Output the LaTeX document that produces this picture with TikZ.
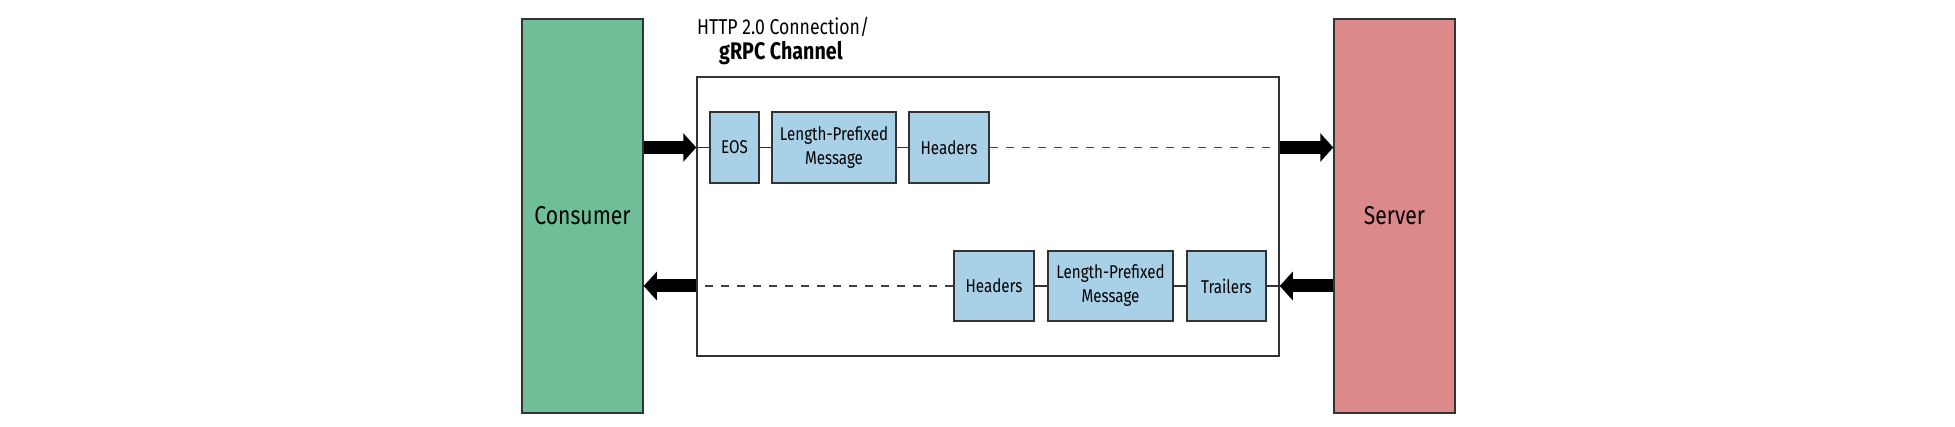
\documentclass[tikz,border=0pt]{standalone}
\usepackage{fontspec}
\setmainfont{Fira Sans}[FakeStretch=0.82]
\usetikzlibrary{arrows.meta}
\definecolor{consgreen}{HTML}{70BE98}
\definecolor{servred}{HTML}{DC898A}
\definecolor{boxblue}{HTML}{A8D0E6}
\definecolor{edgegray}{HTML}{333333}
\definecolor{dashgray}{HTML}{404040}
\tikzset{
  endbox/.style={draw=edgegray, line width=1.5pt, rectangle, inner sep=0pt,
    minimum width=121pt, minimum height=394pt, font=\fontsize{25.8}{30}\selectfont},
  chanbox/.style={draw=edgegray, line width=1.5pt, rectangle, inner sep=0pt,
    minimum width=582pt, minimum height=279pt},
  msgbox/.style={draw=edgegray, fill=boxblue, line width=1.8pt, rectangle, inner sep=0pt,
    align=center, font=\fontsize{18.5}{24}\selectfont},
  thinlink/.style={draw=edgegray, line width=1.5pt},
  dashlink/.style={draw=dashgray, line width=1.8pt, dash pattern=on 8pt off 8pt},
  bigarrow/.style={line width=13pt, -{Triangle[length=13pt, width=28pt]}},
}
\begin{document}
\begin{tikzpicture}[x=1pt, y=-1pt]
\useasboundingbox (0,0) rectangle (1955,427);
\node[endbox, fill=consgreen] (consumer) at (582.5,216) {Consumer};
\node[endbox, fill=servred] (server) at (1394.5,216) {Server};
\node[chanbox] (channel) at (988,216.5) {};
\node[anchor=base west, inner xsep=0pt, font=\fontsize{21.5}{24}\selectfont] (title1) at (697,35) {HTTP 2.0 Connection/};
\node[anchor=base west, inner xsep=0pt, font=\fontsize{24}{28}\selectfont\bfseries] (title2) at (719,60) {gRPC Channel};
% top row
\node[msgbox, minimum width=49pt, minimum height=71pt] (eos) at (734.5,147.5) {EOS};
\node[msgbox, minimum width=124pt, minimum height=71pt] (lpm1) at (834,147.5) {Length-Prefixed\\Message};
\node[msgbox, minimum width=80pt, minimum height=71pt] (hdr1) at (949,147.5) {Headers};
% bottom row
\node[msgbox, minimum width=80pt, minimum height=70pt] (hdr2) at (994,286) {Headers};
\node[msgbox, minimum width=125pt, minimum height=70pt] (lpm2) at (1110.5,286) {Length-Prefixed\\Message};
\node[msgbox, minimum width=79pt, minimum height=70pt] (trl) at (1226.5,286) {Trailers};
\coordinate (cinTop) at (channel.west |- eos);
\coordinate (coutTop) at (channel.east |- hdr1);
\coordinate (cinBot) at (channel.east |- trl);
\coordinate (coutBot) at (channel.west |- hdr2);
% links top
\draw[thinlink] (cinTop) -- (eos.west);
\draw[thinlink] (eos.east) -- (lpm1.west);
\draw[thinlink] (lpm1.east) -- (hdr1.west);
\draw[dashlink] (hdr1.east) -- (coutTop);
% links bottom
\draw[thinlink] (cinBot) -- (trl.east);
\draw[thinlink] (trl.west) -- (lpm2.east);
\draw[thinlink] (lpm2.west) -- (hdr2.east);
\draw[dashlink] (hdr2.west) -- (coutBot);
% big arrows
\draw[bigarrow] (consumer.east |- eos) -- (cinTop);
\draw[bigarrow] (coutTop) -- (server.west |- hdr1);
\draw[bigarrow] (server.west |- trl) -- (cinBot);
\draw[bigarrow] (coutBot) -- (consumer.east |- hdr2);
\end{tikzpicture}
\end{document}
